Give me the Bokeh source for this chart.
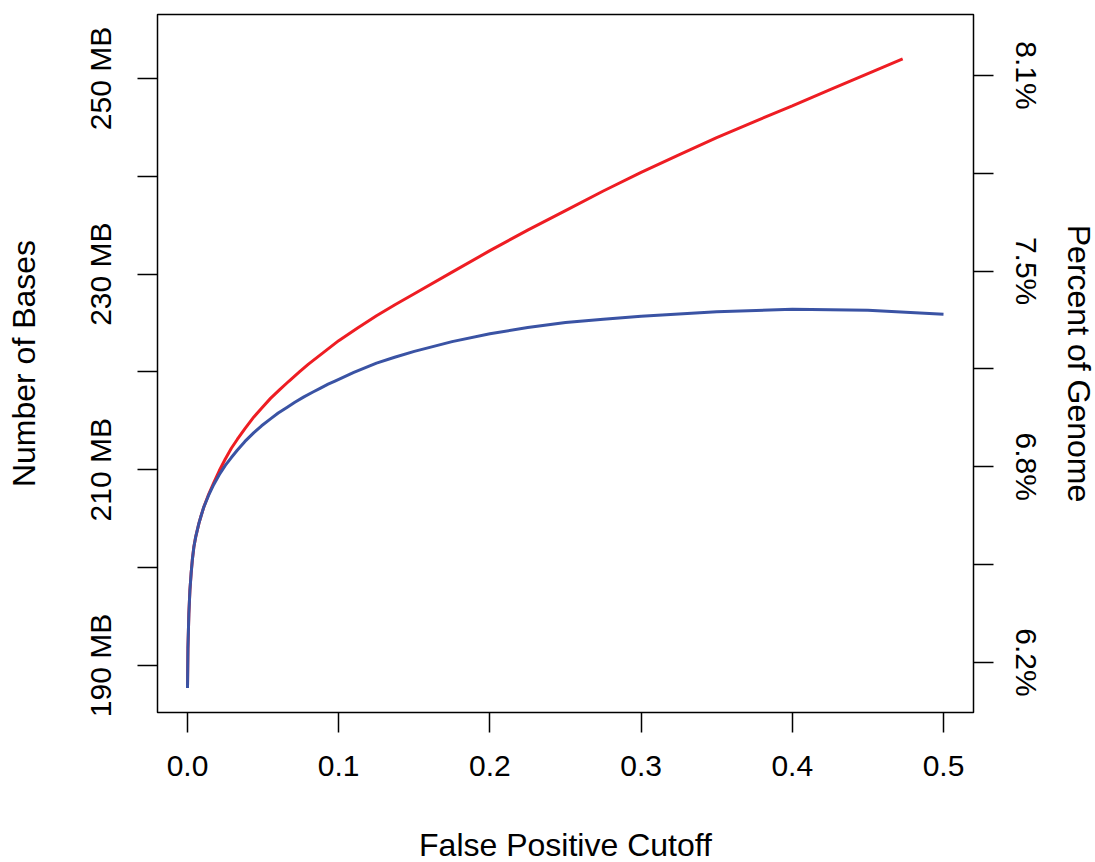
import math
from bokeh.plotting import figure
from bokeh.models import Range1d, LinearAxis, FixedTicker, PrintfTickFormatter
from bokeh.embed import file_html
from bokeh.resources import INLINE

# ---- data ----
red_x = [0.0, 0.0003, 0.0009, 0.0016, 0.0024, 0.0032, 0.0042, 0.0055, 0.0075, 0.009,
         0.0108, 0.014, 0.0174, 0.021, 0.025, 0.029, 0.0329, 0.038, 0.0439, 0.049,
         0.0549, 0.061, 0.067, 0.074, 0.08, 0.09, 0.1, 0.1125, 0.125, 0.1375,
         0.15, 0.175, 0.2, 0.225, 0.25, 0.275, 0.3, 0.325, 0.35, 0.375,
         0.4, 0.425, 0.45, 0.473]
red_y = [187.7, 191.8, 195.3, 197.7, 199.4, 200.8, 202.1, 203.2, 204.5, 205.3,
         206.2, 207.5, 208.7, 209.9, 211.1, 212.2, 213.1, 214.2, 215.4, 216.3,
         217.3, 218.2, 219.05, 220.0, 220.8, 222.0, 223.2, 224.5, 225.75, 226.9,
         228.0, 230.2, 232.4, 234.5, 236.5, 238.5, 240.4, 242.2, 243.95, 245.6,
         247.2, 248.85, 250.5, 252.0]

blue_x = [0.0, 0.0003, 0.0009, 0.0016, 0.0024, 0.0032, 0.0042, 0.0055, 0.0075, 0.009,
          0.0108, 0.014, 0.0174, 0.021, 0.025, 0.029, 0.0329, 0.038, 0.0439, 0.049,
          0.0549, 0.06, 0.066, 0.071, 0.077, 0.083, 0.088, 0.093, 0.0979, 0.11,
          0.125, 0.137, 0.15, 0.175, 0.2, 0.225, 0.25, 0.275, 0.3, 0.35,
          0.4, 0.45, 0.5]
blue_y = [187.7, 191.8, 195.3, 197.7, 199.4, 200.8, 202.1, 203.2, 204.5, 205.3,
          206.2, 207.4, 208.5, 209.5, 210.45, 211.25, 212.0, 212.9, 213.8, 214.5,
          215.2, 215.8, 216.4, 216.9, 217.45, 217.95, 218.35, 218.75, 219.1, 219.95,
          220.9, 221.5, 222.1, 223.1, 223.9, 224.55, 225.05, 225.4, 225.7, 226.15,
          226.4, 226.3, 225.9]

x_ticks = [0.0, 0.1, 0.2, 0.3, 0.4, 0.5]
y_ticks = [190, 200, 210, 220, 230, 240, 250]
y_tick_labels = ["190 MB", "", "210 MB", "", "230 MB", "", "250 MB"]
pct_tick_labels = ["6.2%", "", "6.8%", "", "7.5%", "", "8.1%"]

FONT = "Liberation Sans"
TICK_SIZE = "30px"
LABEL_SIZE = "32px"

y0, y1 = 185.19, 256.54
pct_shift = 0.31

p = figure(frame_width=816, frame_height=698,
           x_range=Range1d(-0.01984, 0.51984), y_range=Range1d(y0, y1),
           output_backend="svg", toolbar_location=None,
           min_border_left=157, min_border_right=110, min_border_top=14, min_border_bottom=130,
           background_fill_color="white", border_fill_color="white")
p.extra_y_ranges = {"pct": Range1d(y0 - pct_shift, y1 - pct_shift)}

p.xgrid.visible = False
p.ygrid.visible = False
p.outline_line_color = "black"
p.outline_line_width = 1.5

p.line(red_x, red_y, line_color="#EE1D23", line_width=3)
p.line(blue_x, blue_y, line_color="#3A53A4", line_width=3)

def style(ax, size=TICK_SIZE):
    ax.axis_line_color = None
    ax.major_tick_out = 20
    ax.major_tick_in = 0
    ax.major_tick_line_width = 1.5
    ax.major_tick_line_color = "black"
    ax.minor_tick_line_color = None
    ax.major_label_text_font = FONT
    ax.major_label_text_font_size = size
    ax.major_label_text_color = "black"
    ax.axis_label_text_font = FONT
    ax.axis_label_text_font_size = LABEL_SIZE
    ax.axis_label_text_font_style = "normal"
    ax.axis_label_text_color = "black"

xa = p.xaxis[0]
style(xa)
xa.ticker = FixedTicker(ticks=x_ticks)
xa.formatter = PrintfTickFormatter(format="%.1f")
xa.major_label_standoff = 23
xa.axis_label = "False Positive Cutoff"
xa.axis_label_standoff = 48

ya = p.yaxis[0]
style(ya)
ya.ticker = FixedTicker(ticks=y_ticks)
ya.major_label_overrides = {t: l for t, l in zip(y_ticks, y_tick_labels)}
ya.major_label_orientation = "parallel"
ya.major_label_standoff = 20
ya.axis_label = "Number of Bases"
ya.axis_label_standoff = 40

ra = LinearAxis(y_range_name="pct")
style(ra)
ra.ticker = FixedTicker(ticks=y_ticks)
ra.major_label_overrides = {t: l for t, l in zip(y_ticks, pct_tick_labels)}
ra.major_label_orientation = "parallel"
ra.major_label_standoff = 16
ra.axis_label = "Percent of Genome"
ra.axis_label_standoff = 15
p.add_layout(ra, "right")

open("out.html", "w").write(file_html(p, INLINE))
